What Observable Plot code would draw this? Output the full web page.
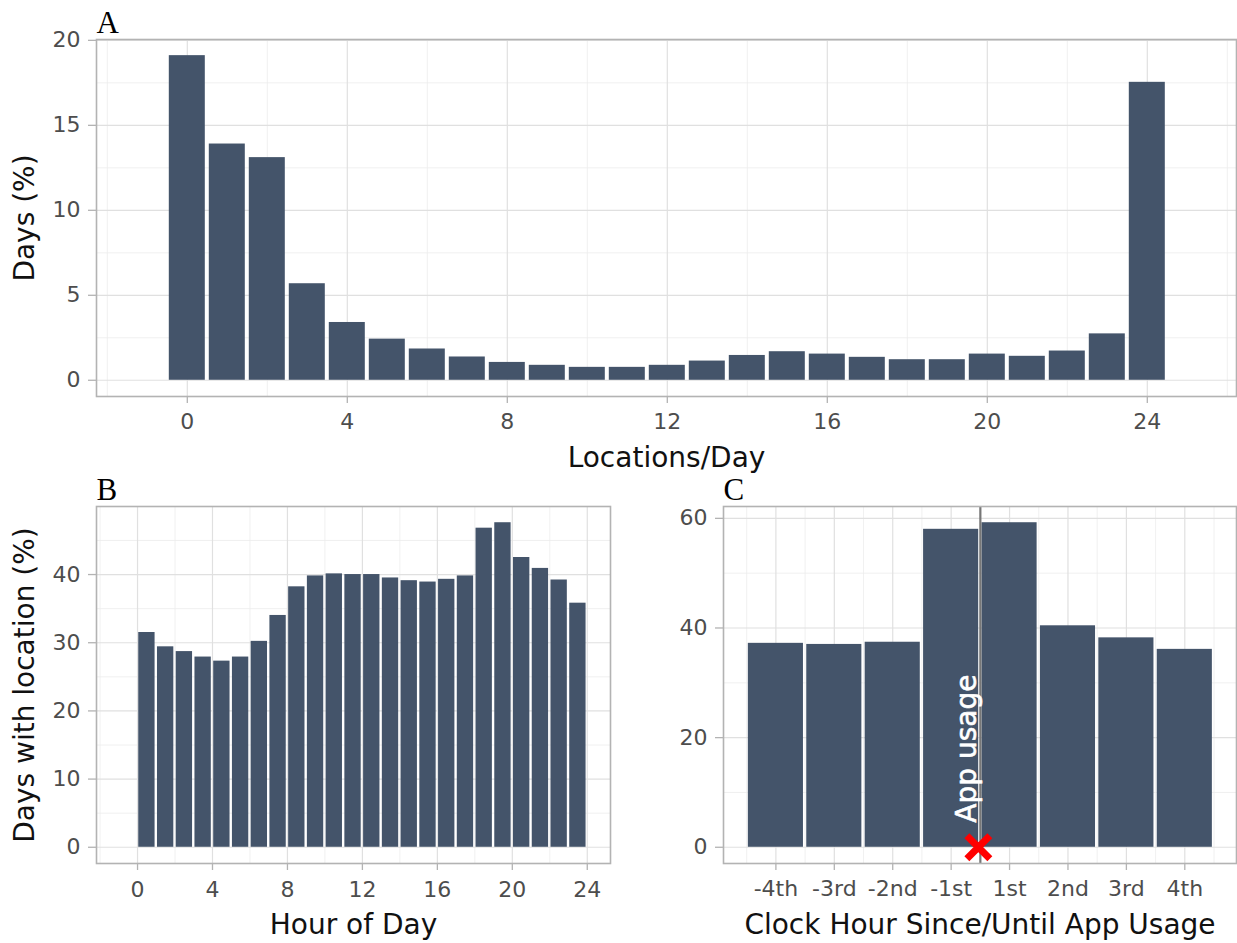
<!DOCTYPE html>
<html><head><meta charset="utf-8">
<script src="https://cdn.jsdelivr.net/npm/d3@7"></script>
<script src="https://cdn.jsdelivr.net/npm/@observablehq/plot@0.6"></script>
<style>
body{margin:0;background:#fff;}
#fig{position:relative;width:1237px;height:943px;overflow:hidden;background:#fff;}
#fig > div{position:absolute;}
</style></head><body>
<div id="fig"><div id="pa" style="left:0;top:0"></div><div id="pb" style="left:0;top:480px"></div><div id="pc" style="left:640px;top:480px"></div></div>
<script>
// ---- Panel A: Locations/Day ----
const locationsPerDay = [0,1,2,3,4,5,6,7,8,9,10,11,12,13,14,15,16,17,18,19,20,21,22,23,24];
const locationDaysPct = [19.1,13.9,13.1,5.68,3.4,2.42,1.84,1.37,1.05,0.88,0.76,0.76,0.88,1.13,1.46,1.68,1.54,1.35,1.21,1.21,1.54,1.41,1.72,2.73,17.53];
const aXTicks = [0,4,8,12,16,20,24];
const aXMinor = [-2,2,6,10,14,18,22,26];
const aYTicks = [0,5,10,15,20];
const aYMinor = [2.5,7.5,12.5,17.5];

// ---- Panel B: Hour of Day (bars centred on hour + 0.5) ----
const hourCenters = [0.5,1.5,2.5,3.5,4.5,5.5,6.5,7.5,8.5,9.5,10.5,11.5,12.5,13.5,14.5,15.5,16.5,17.5,18.5,19.5,20.5,21.5,22.5,23.5];
const hourPct = [31.5,29.4,28.7,27.9,27.3,27.9,30.2,34.0,38.2,39.8,40.1,40.0,40.0,39.5,39.1,38.9,39.3,39.8,46.8,47.6,42.5,40.9,39.2,35.8];
const bXTicks = [0,4,8,12,16,20,24];
const bXMinor = [-2,2,6,10,14,18,22];
const bYTicks = [0,10,20,30,40];
const bYMinor = [5,15,25,35,45];

// ---- Panel C: Clock hour since/until app usage ----
const clockHourLabels = ["-4th","-3rd","-2nd","-1st","1st","2nd","3rd","4th"];
const clockHourIndex = [1,2,3,4,5,6,7,8];
const clockHourPct = [37.2,37.0,37.4,58.0,59.2,40.4,38.2,36.1];
const cYTicks = [0,20,40,60];
const cYMinor = [10,30,50];
const cXMinor = [0.5,1.5,2.5,3.5,4.5,5.5,6.5,7.5,8.5];
const appUsageX = 4.5;
const appUsageLabelY = 18;

const BAR = "#44546a", GRID = "#e0e0e0", GRIDMINOR = "#ececec", BORDER = "#b3b3b3", TICKTEXT = "#4d4d4d";
const FONT = "DejaVu Sans";

function panel(o) {
  const data = o.xs.map((x, i) => ({x, y: o.ys[i]}));
  const marks = [
    Plot.ruleX(o.xMinor, {stroke: GRIDMINOR, strokeWidth: 0.8}),
    Plot.ruleY(o.yMinor, {stroke: GRIDMINOR, strokeWidth: 0.8}),
    Plot.ruleX(o.xTicks, {stroke: GRID, strokeWidth: 1.2}),
    Plot.ruleY(o.yTicks, {stroke: GRID, strokeWidth: 1.2}),
    Plot.rectY(data, {x1: d => d.x - 0.5, x2: d => d.x + 0.5, y: "y", fill: BAR, insetLeft: o.inset, insetRight: o.inset}),
    ...(o.extra || []),
    Plot.frame({stroke: BORDER, strokeWidth: 1.6}),
    Plot.axisX({ticks: o.xTicks, tickFormat: o.xFormat, tickSize: 7, tickPadding: o.xPad, stroke: BORDER, strokeWidth: 1.3, fill: TICKTEXT, fontSize: 22, label: null}),
    Plot.axisX({ticks: [], label: o.xLabel, labelAnchor: "center", labelOffset: 70, labelArrow: "none", fontSize: 28, fill: "#111"}),
    Plot.axisY({ticks: o.yTicks, tickSize: 8, tickPadding: 8, stroke: BORDER, strokeWidth: 1.3, fill: TICKTEXT, fontSize: 22, label: null}),
    Plot.text([o.letter], {text: d => d, frameAnchor: "top-left", textAnchor: "start", lineAnchor: "bottom", dy: -6.5, fontFamily: "Liberation Serif", fontSize: 31, fill: "#000"})
  ];
  if (o.yLabel) marks.push(Plot.axisY({ticks: [], label: o.yLabel, labelAnchor: "center", labelOffset: 82, labelArrow: "none", fontSize: 28, fill: "#111"}));
  return Plot.plot({
    width: o.width, height: o.height,
    marginLeft: o.m[3], marginRight: o.m[1], marginTop: o.m[0], marginBottom: o.m[2],
    x: {domain: o.xDomain},
    y: {domain: o.yDomain},
    style: {fontFamily: FONT, fontSize: "22px", background: "white", overflow: "visible"},
    marks
  });
}

document.getElementById("pa").append(panel({
  xs: locationsPerDay, ys: locationDaysPct, inset: 2,
  xTicks: aXTicks, xMinor: aXMinor, yTicks: aYTicks, yMinor: aYMinor,
  xDomain: [-2.27, 26.23], yDomain: [-0.955, 20.05], xPad: 10,
  xLabel: "Locations/Day", yLabel: "Days (%)", letter: "A",
  width: 1237, height: 480, m: [39, 1, 84, 96]
}));

document.getElementById("pb").append(panel({
  xs: hourCenters, ys: hourPct, inset: 1.2,
  xTicks: bXTicks, xMinor: bXMinor, yTicks: bYTicks, yMinor: bYMinor,
  xDomain: [-2.19, 25.24], yDomain: [-2.38, 49.98], xPad: 11,
  xLabel: "Hour of Day", yLabel: "Days with location (%)", letter: "B",
  width: 640, height: 463, m: [26, 30, 80, 96]
}));

document.getElementById("pc").append(panel({
  xs: clockHourIndex, ys: clockHourPct, inset: 1.65,
  xTicks: clockHourIndex, xFormat: d => clockHourLabels[d - 1], xMinor: cXMinor, yTicks: cYTicks, yMinor: cYMinor,
  xDomain: [0.103, 8.885], yDomain: [-2.96, 62.16], xPad: 10,
  xLabel: "Clock Hour Since/Until App Usage", yLabel: null, letter: "C",
  width: 597, height: 463, m: [26, 1, 80, 83],
  extra: [
    Plot.ruleX([appUsageX], {stroke: "#777777", strokeWidth: 2.2}),
    Plot.text([{x: appUsageX, y: appUsageLabelY, label: "App usage"}], {x: "x", y: "y", text: "label", rotate: -90, lineAnchor: "bottom", dx: -4, fill: "white", fontSize: 28, stroke: "white", strokeWidth: 0.6}),
    Plot.dot([{x: appUsageX, y: 0}], {x: "x", y: "y", symbol: "times", r: 10.5, dx: -2, stroke: "#ff0000", strokeWidth: 7})
  ]
}));
</script>
</body></html>
